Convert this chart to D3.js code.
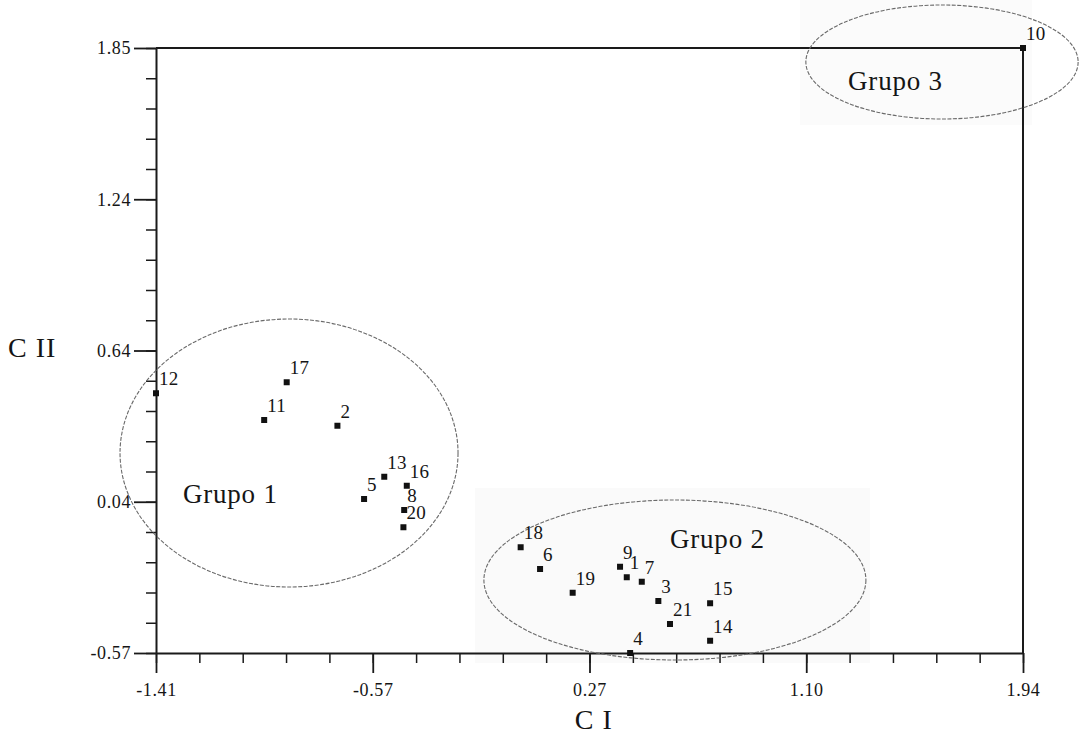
<!DOCTYPE html>
<html>
<head>
<meta charset="utf-8">
<script src="https://cdn.jsdelivr.net/npm/d3@7"></script>
<style>
  body { margin: 0; background: #fff; }
  svg text { font-family: "Liberation Serif", "Times New Roman", Tinos, "DejaVu Serif", serif; fill: #151515; }
  .axis path, .axis line { stroke: #1a1a1a; }
</style>
</head>
<body>
<div id="plot"></div>
<script>
// point numbers and their scores on the two components
var pointIds  = ["12", "17", "11", "2", "13", "16", "5", "8", "20",
                 "18", "6", "19", "9", "1", "7", "3", "21", "15", "14", "4", "10"];
var ciValues  = [-1.41, -0.905, -0.992, -0.709, -0.528, -0.441, -0.606, -0.451, -0.454,
                 -0.001, 0.074, 0.200, 0.383, 0.409, 0.467, 0.531, 0.576, 0.731, 0.731, 0.422, 1.94];
var ciiValues = [0.469, 0.513, 0.362, 0.339, 0.135, 0.099, 0.046, 0.002, -0.067,
                 -0.147, -0.234, -0.329, -0.225, -0.267, -0.285, -0.362, -0.454, -0.371, -0.521, -0.57, 1.85];

var xTickLabels = ["-1.41", "-0.57", "0.27", "1.10", "1.94"];
var yTickLabels = ["-0.57", "0.04", "0.64", "1.24", "1.85"];

// group ellipses (data units)
var groupNames = ["Grupo 1", "Grupo 2", "Grupo 3"];
var groupCx = [-0.896, 0.595, 1.627];
var groupCy = [0.23, -0.278, 1.794];
var groupRx = [0.653, 0.738, 0.526];
var groupRy = [0.536, 0.32, 0.228];
var groupLabelX = [-1.306, 0.576, 1.264];
var groupLabelY = [0.03, -0.15, 1.682];

var serif = "'Liberation Serif', 'Times New Roman', Tinos, serif";

var margin = { top: 48, right: 57, bottom: 84, left: 156 },
    width = 1080 - margin.left - margin.right,
    height = 737 - margin.top - margin.bottom;

var svg = d3.select("#plot").append("svg")
    .attr("width", 1080)
    .attr("height", 737);

// faint scan patches behind groups 2 and 3
svg.append("rect").attr("x", 475).attr("y", 488).attr("width", 395).attr("height", 175).attr("fill", "#fafafa");
svg.append("rect").attr("x", 800).attr("y", 0).attr("width", 232).attr("height", 125).attr("fill", "#fbfbfb");

var g = svg.append("g")
    .attr("transform", "translate(" + margin.left + "," + margin.top + ")");

var xMin = d3.min(xTickLabels, Number), xMax = d3.max(xTickLabels, Number),
    yMin = d3.min(yTickLabels, Number), yMax = d3.max(yTickLabels, Number);

var xScale = d3.scaleLinear().domain([xMin, xMax]).range([0, width]),
    yScale = d3.scaleLinear().domain([yMin, yMax]).range([height, 0]);

// 4 minor ticks between each labelled tick
var xMinor = d3.range(21).map(function(i){ return xMin + i * (xMax - xMin) / 20; }),
    yMinor = d3.range(21).map(function(i){ return yMin + i * (yMax - yMin) / 20; });
var xMajor = d3.range(5).map(function(i){ return xMin + i * (xMax - xMin) / 4; }),
    yMajor = d3.range(5).map(function(i){ return yMin + i * (yMax - yMin) / 4; });

// frame: top and right sides
g.append("line").attr("x1", 0).attr("x2", width).attr("y1", 0).attr("y2", 0)
    .attr("stroke", "#1a1a1a").attr("stroke-width", 2);
g.append("line").attr("x1", width).attr("x2", width).attr("y1", 0).attr("y2", height)
    .attr("stroke", "#1a1a1a").attr("stroke-width", 2);

// x axis
var xMinorAxis = g.append("g").attr("class", "axis")
    .attr("transform", "translate(0," + height + ")")
    .call(d3.axisBottom(xScale).tickValues(xMinor).tickSize(10).tickSizeOuter(0).tickFormat(""));
xMinorAxis.select(".domain").attr("stroke-width", 2);
xMinorAxis.selectAll(".tick line").attr("stroke-width", 1.5);

var xMajorAxis = g.append("g").attr("class", "axis")
    .attr("transform", "translate(0," + height + ")")
    .call(d3.axisBottom(xScale).tickValues(xMajor).tickSize(20).tickSizeOuter(0).tickPadding(10)
        .tickFormat(function(d, i){ return xTickLabels[i]; }));
xMajorAxis.select(".domain").remove();
xMajorAxis.selectAll(".tick line").attr("stroke-width", 1.8);
xMajorAxis.selectAll("text").attr("font-size", 18).style("letter-spacing", "0.6px")
    .attr("font-family", serif).attr("fill", "#151515");

// y axis
var yMinorAxis = g.append("g").attr("class", "axis")
    .call(d3.axisLeft(yScale).tickValues(yMinor).tickSize(10).tickSizeOuter(0).tickFormat(""));
yMinorAxis.select(".domain").attr("stroke-width", 2);
yMinorAxis.selectAll(".tick line").attr("stroke-width", 1.5);

var yMajorAxis = g.append("g").attr("class", "axis")
    .call(d3.axisLeft(yScale).tickValues(yMajor).tickSize(22).tickSizeOuter(0).tickPadding(3)
        .tickFormat(function(d, i){ return yTickLabels[i]; }));
yMajorAxis.select(".domain").remove();
yMajorAxis.selectAll(".tick line").attr("stroke-width", 1.8);
yMajorAxis.selectAll("text").attr("font-size", 18).style("letter-spacing", "0.6px")
    .attr("font-family", serif).attr("fill", "#151515");

// axis titles
svg.append("text")
    .attr("x", 8).attr("y", 357)
    .attr("font-size", 28).style("letter-spacing", "1px")
    .text("C II");
svg.append("text")
    .attr("x", margin.left + xScale(0.27) + 3).attr("y", 729)
    .attr("text-anchor", "middle")
    .attr("font-size", 28).style("letter-spacing", "1px")
    .text("C I");

// group ellipses
var groups = d3.range(groupNames.length);
g.selectAll(".group-ring")
    .data(groups)
    .enter().append("ellipse")
    .attr("class", "group-ring")
    .attr("cx", function(i){ return xScale(groupCx[i]); })
    .attr("cy", function(i){ return yScale(groupCy[i]); })
    .attr("rx", function(i){ return xScale(groupCx[i] + groupRx[i]) - xScale(groupCx[i]); })
    .attr("ry", function(i){ return yScale(groupCy[i]) - yScale(groupCy[i] + groupRy[i]); })
    .attr("fill", "none")
    .attr("stroke", "#6a6a6a")
    .attr("stroke-width", 1.1)
    .attr("stroke-dasharray", "4,1.5");

g.selectAll(".group-label")
    .data(groups)
    .enter().append("text")
    .attr("class", "group-label")
    .attr("x", function(i){ return xScale(groupLabelX[i]); })
    .attr("y", function(i){ return yScale(groupLabelY[i]); })
    .attr("font-size", 27)
    .style("letter-spacing", "0.8px")
    .text(function(i){ return groupNames[i]; });

// points
var pts = d3.range(pointIds.length);
g.selectAll(".dot")
    .data(pts)
    .enter().append("rect")
    .attr("class", "dot")
    .attr("x", function(i){ return xScale(ciValues[i]) - 3; })
    .attr("y", function(i){ return yScale(ciiValues[i]) - 3; })
    .attr("width", 6).attr("height", 6)
    .attr("fill", "#111");

g.selectAll(".dot-label")
    .data(pts)
    .enter().append("text")
    .attr("class", "dot-label")
    .attr("x", function(i){ return xScale(ciValues[i]) + 3; })
    .attr("y", function(i){ return yScale(ciiValues[i]) - 8; })
    .attr("font-size", 19)
    .style("letter-spacing", "0.3px")
    .text(function(i){ return pointIds[i]; });
</script>
</body>
</html>
